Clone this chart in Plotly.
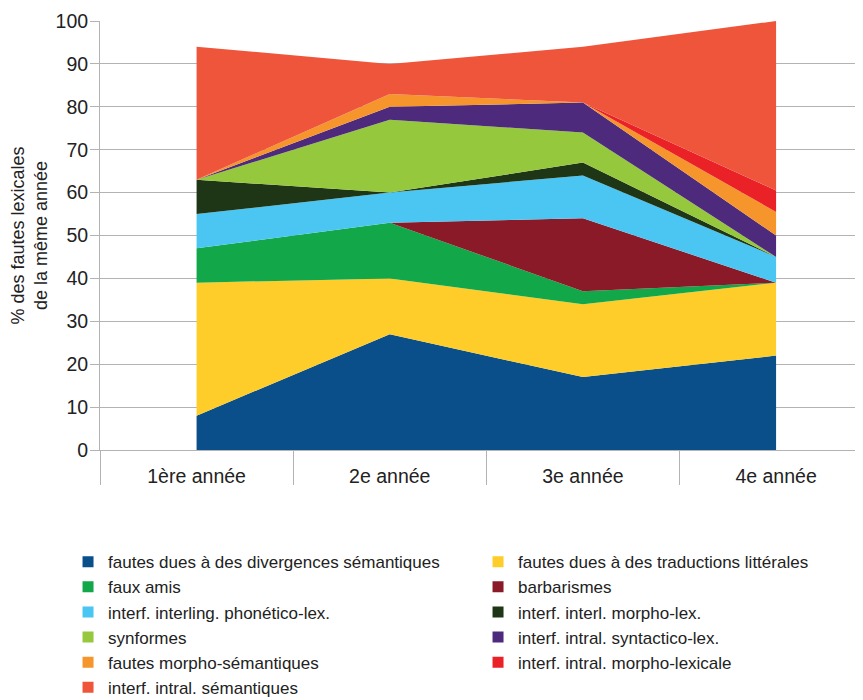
import plotly.graph_objects as go

categories = ["1ère année", "2e année", "3e année", "4e année"]
y_ticks = [0, 10, 20, 30, 40, 50, 60, 70, 80, 90, 100]

divergences = [8, 27, 17, 22]
traductions = [31, 13, 17, 17]
faux_amis = [8, 13, 3, 0]
barbarismes = [0, 0, 17, 0]
phonetico = [8, 7, 10, 6]
interl_morpho = [8, 0, 3, 0]
synformes = [0, 17, 7, 0]
syntactico = [0, 3, 7, 5]
morpho_sem = [0, 3, 0, 5.5]
intral_morpho = [0, 0, 0, 5]
intral_sem = [31, 7, 13, 39.5]

series_names = [
    "fautes dues à des divergences sémantiques",
    "fautes dues à des traductions littérales",
    "faux amis",
    "barbarismes",
    "interf. interling. phonético-lex.",
    "interf. interl. morpho-lex.",
    "synformes",
    "interf. intral. syntactico-lex.",
    "fautes morpho-sémantiques",
    "interf. intral. morpho-lexicale",
    "interf. intral. sémantiques",
]
series_values = [divergences, traductions, faux_amis, barbarismes, phonetico,
                 interl_morpho, synformes, syntactico, morpho_sem, intral_morpho, intral_sem]
colors = ["#0a4f8a", "#fecd2a", "#12a84a", "#8b1a28", "#4bc6f2", "#1f3616",
          "#96c83e", "#4d2a7c", "#f7952d", "#ea2227", "#ef553a"]

xpos = list(range(len(categories)))
FONT = "Liberation Sans, Arial, sans-serif"

fig = go.Figure()
for name, vals, col in zip(series_names, series_values, colors):
    fig.add_trace(go.Scatter(
        x=xpos, y=vals, name=name, stackgroup="one", mode="none",
        fillcolor=col, line=dict(width=0), showlegend=False, hoverinfo="name+y"))
for name, col in zip(series_names, colors):
    fig.add_trace(go.Scatter(
        x=[None], y=[None], name=name, mode="markers",
        marker=dict(symbol="square", size=11, color=col), showlegend=True))

# page body adds an 8px offset; figure is sized so the plot lands where the reference has it
fig.update_layout(
    width=855, height=692,
    margin=dict(l=92, r=0, t=13, b=250, autoexpand=False),
    plot_bgcolor="white", paper_bgcolor="white",
    font=dict(family=FONT, size=19.5, color="#222222"),
    showlegend=True,
    legend=dict(
        orientation="h", traceorder="normal",
        xref="paper", yref="paper",
        x=-0.0419, xanchor="left", y=-0.2196, yanchor="top",
        entrywidth=365, entrywidthmode="pixels",
        font=dict(family=FONT, size=17, color="#222222"),
        itemclick=False,
    ),
    xaxis=dict(
        range=[-0.5, 3.45], tickmode="array", tickvals=xpos, ticktext=categories,
        ticks="", showgrid=False, zeroline=False, automargin=False,
        showline=True, linecolor="#b3b3b3", linewidth=1,
        tickfont=dict(size=19.5), ticklabelstandoff=9, fixedrange=True,
        minor=dict(tickmode="array", tickvals=[-0.5, 0.5, 1.5, 2.5],
                   ticks="outside", ticklen=34, tickcolor="#b3b3b3", tickwidth=1,
                   showgrid=False),
    ),
    yaxis=dict(
        range=[0, 100], tickmode="array", tickvals=y_ticks,
        ticks="outside", ticklen=9, tickcolor="#b3b3b3", automargin=False,
        showgrid=True, gridcolor="#b3b3b3", gridwidth=1, zeroline=False,
        showline=True, linecolor="#b3b3b3", linewidth=1,
        tickfont=dict(size=19.5), ticklabelstandoff=-2,
        title=dict(text="% des fautes lexicales<br>de la même année",
                   font=dict(size=18), standoff=4),
    ),
)

fig.write_html("out.html")
